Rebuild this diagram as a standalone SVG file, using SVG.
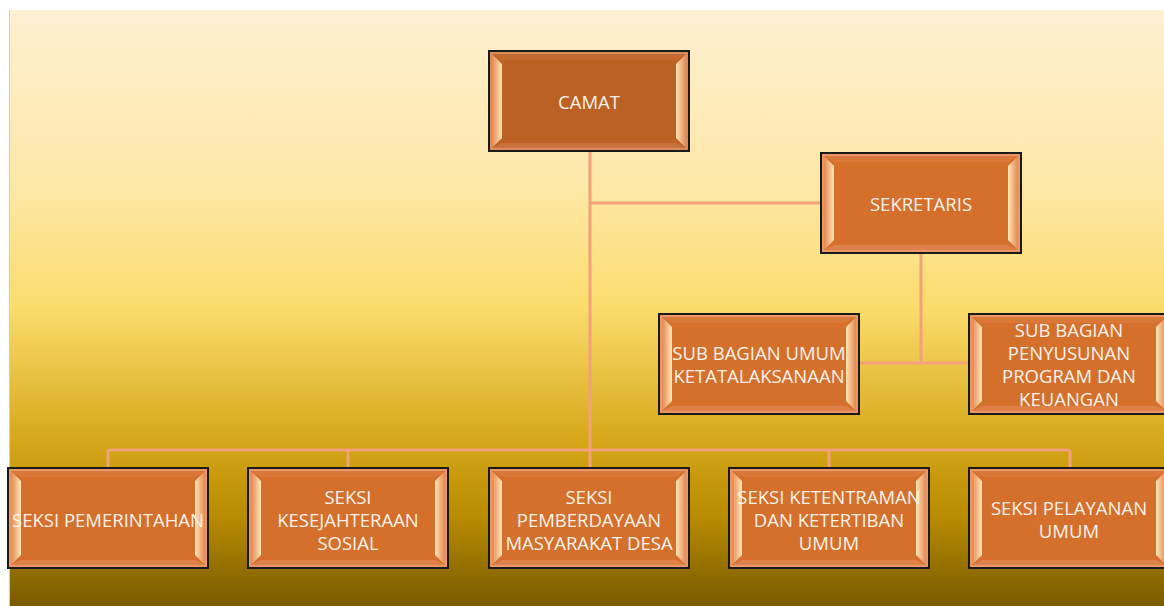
<svg xmlns="http://www.w3.org/2000/svg" xmlns:xlink="http://www.w3.org/1999/xlink" width="1164" height="606" viewBox="0 0 1164 606">
<defs>
<linearGradient id="bg" x1="0" y1="0" x2="0" y2="1">
<stop offset="0" stop-color="#FEF0D2"/>
<stop offset="0.3" stop-color="#FDE7A6"/>
<stop offset="0.5" stop-color="#FBDC6C"/>
<stop offset="0.72" stop-color="#D6A81A"/>
<stop offset="0.85" stop-color="#B88C00"/>
<stop offset="1" stop-color="#7A5A00"/>
</linearGradient>
<linearGradient id="bl" x1="0" y1="0" x2="1" y2="0">
<stop offset="0" stop-color="#E38A52"/>
<stop offset="0.5" stop-color="#F4B583"/>
<stop offset="1" stop-color="#FFE9B5"/>
</linearGradient>
<linearGradient id="br" x1="1" y1="0" x2="0" y2="0">
<stop offset="0" stop-color="#E38A52"/>
<stop offset="0.5" stop-color="#F4B583"/>
<stop offset="1" stop-color="#FFE9B5"/>
</linearGradient>
<symbol id="box" viewBox="0 0 202 102">
<rect x="1" y="1" width="200" height="100" fill="#D56F2C" stroke="#1a1a1a" stroke-width="2"/>
<rect x="3" y="3" width="196" height="96" fill="none" stroke="#EFA57A" stroke-width="1.5"/>
<polygon points="4,4 198,4 188,10 14,10" fill="#D97838"/>
<polygon points="4,98 198,98 188,93 14,93" fill="#DD8148"/>
<polygon points="4,4 14,14 14,88 4,98" fill="url(#bl)"/>
<polygon points="198,4 188,14 188,88 198,98" fill="url(#br)"/>
</symbol>
<symbol id="boxDark" viewBox="0 0 202 102">
<rect x="1" y="1" width="200" height="100" fill="#BC6124" stroke="#1a1a1a" stroke-width="2"/>
<rect x="3" y="3" width="196" height="96" fill="none" stroke="#E09A72" stroke-width="1.5"/>
<polygon points="4,4 198,4 188,10 14,10" fill="#C26A30"/>
<polygon points="4,98 198,98 188,93 14,93" fill="#C8733F"/>
<polygon points="4,4 14,14 14,88 4,98" fill="url(#bl)"/>
<polygon points="198,4 188,14 188,88 198,98" fill="url(#br)"/>
</symbol>
</defs>
<style>
.t{font-family:"Open Sans","Liberation Sans",sans-serif;font-size:18.5px;fill:#FDF3EA;text-anchor:middle;dominant-baseline:central}
.c{stroke:#F2A27A;stroke-width:3;fill:none}
</style>
<rect x="0" y="0" width="1164" height="606" fill="#FFFFFF"/>
<rect x="9" y="10" width="1155" height="596" fill="url(#bg)"/>
<line x1="9.5" y1="10" x2="9.5" y2="606" stroke="#D8CBB0" stroke-width="1"/>
<g id="connectors">
<path class="c" d="M590,152 V467"/>
<path class="c" d="M590,203 H820"/>
<path class="c" d="M921,254 V363"/>
<path class="c" d="M860,363 H968"/>
<path class="c" d="M108,450 H1070"/>
<path class="c" d="M108,450 V467 M348,450 V467 M829,450 V467 M1070,450 V467"/>
</g>
<g id="camat"><use xlink:href="#boxDark" x="488" y="50" width="202" height="102"/><text class="t" x="589" y="101">CAMAT</text></g>
<g id="sekretaris"><use xlink:href="#box" x="820" y="152" width="202" height="102"/><text class="t" x="921" y="203">SEKRETARIS</text></g>
<g id="subumum"><use xlink:href="#box" x="658" y="313" width="202" height="102"/><text class="t" x="759" y="352">SUB BAGIAN UMUM</text><text class="t" x="759" y="375">KETATALAKSANAAN</text></g>
<g id="subprogram"><use xlink:href="#box" x="968" y="313" width="202" height="102"/><text class="t" x="1069" y="329">SUB BAGIAN</text><text class="t" x="1069" y="352">PENYUSUNAN</text><text class="t" x="1069" y="375">PROGRAM DAN</text><text class="t" x="1069" y="398">KEUANGAN</text></g>
<g id="pemerintahan"><use xlink:href="#box" x="7" y="467" width="202" height="102"/><text class="t" x="108" y="519">SEKSI PEMERINTAHAN</text></g>
<g id="kesejahteraan"><use xlink:href="#box" x="247" y="467" width="202" height="102"/><text class="t" x="348" y="496">SEKSI</text><text class="t" x="348" y="519">KESEJAHTERAAN</text><text class="t" x="348" y="542">SOSIAL</text></g>
<g id="pemberdayaan"><use xlink:href="#box" x="488" y="467" width="202" height="102"/><text class="t" x="589" y="496">SEKSI</text><text class="t" x="589" y="519">PEMBERDAYAAN</text><text class="t" x="589" y="542">MASYARAKAT DESA</text></g>
<g id="ketentraman"><use xlink:href="#box" x="728" y="467" width="202" height="102"/><text class="t" x="829" y="496">SEKSI KETENTRAMAN</text><text class="t" x="829" y="519">DAN KETERTIBAN</text><text class="t" x="829" y="542">UMUM</text></g>
<g id="pelayanan"><use xlink:href="#box" x="968" y="467" width="202" height="102"/><text class="t" x="1069" y="507">SEKSI PELAYANAN</text><text class="t" x="1069" y="530">UMUM</text></g>
</svg>
